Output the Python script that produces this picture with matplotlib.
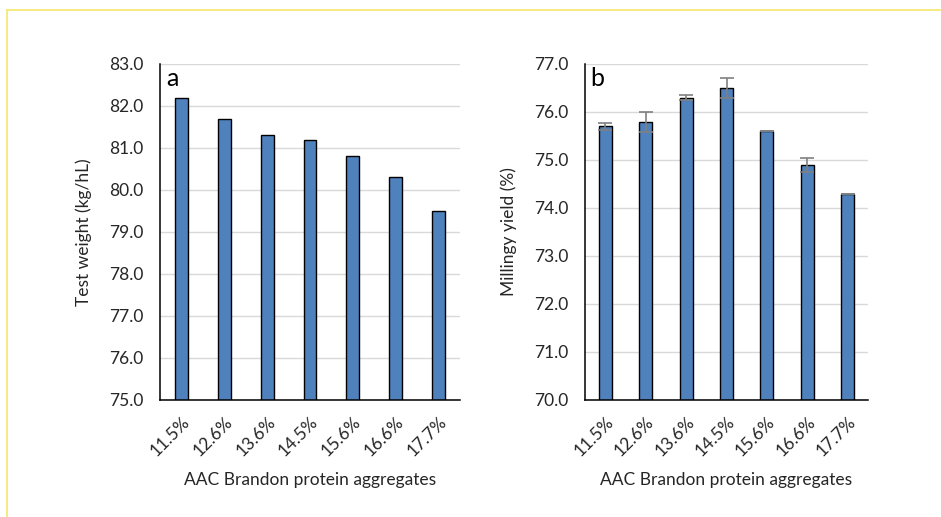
import matplotlib
matplotlib.use("Agg")
from matplotlib import pyplot as plt
from matplotlib.lines import Line2D

plt.rcParams['font.family'] = ['Lato', 'DejaVu Sans']

# protein aggregate levels on the x axis
categories = ['11.5%', '12.6%', '13.6%', '14.5%', '15.6%', '16.6%', '17.7%']

# panel a: test weight (kg/hL)
test_weight = [82.2, 81.7, 81.3, 81.2, 80.8, 80.3, 79.5]

# panel b: milling yield (%) with error bars
milling_yield = [75.7, 75.8, 76.3, 76.5, 75.6, 74.9, 74.3]
milling_err = [0.07, 0.21, 0.05, 0.21, 0.0, 0.14, 0.0]

bar_color = '#4f81bd'
grid_color = '#d9d9d9'
text_color = '#262626'

fig = plt.figure(figsize=(9.41, 5.17), dpi=100)

# light yellow frame around the figure
fig.add_artist(Line2D([7 / 941, 1.0], [1 - 10 / 517, 1 - 10 / 517], transform=fig.transFigure,
                      color='#f6e878', lw=1.3))
fig.add_artist(Line2D([7 / 941, 7 / 941], [0.0, 1 - 10 / 517], transform=fig.transFigure,
                      color='#f6e878', lw=1.3))

ax_a = fig.add_axes([160 / 941, 1 - 400 / 517, 300 / 941, 336 / 517])
ax_b = fig.add_axes([585 / 941, 1 - 400 / 517, 283 / 941, 336 / 517])


# shared styling for both panels
def style_axis(ax, ylim, ylabel, letter):
    ax.set_ylim(*ylim)
    ax.set_xlim(-0.5, len(categories) - 0.5)
    ax.set_yticks([ylim[0] + i for i in range(int(ylim[1] - ylim[0]) + 1)])
    ax.yaxis.set_major_formatter(matplotlib.ticker.FormatStrFormatter('%.1f'))
    ax.grid(axis='y', color=grid_color, lw=1)
    ax.set_axisbelow(True)
    for side in ['top', 'right']:
        ax.spines[side].set_visible(False)
    for side in ['left', 'bottom']:
        ax.spines[side].set_color('#000000')
        ax.spines[side].set_linewidth(1.1)
    ax.tick_params(axis='y', length=0, pad=12, labelsize=12.5, labelcolor=text_color)
    ax.tick_params(axis='x', length=0, pad=10, labelsize=12.5, labelcolor=text_color)
    ax.set_xticks(range(len(categories)))
    ax.set_xticklabels(categories, rotation=45, ha='right', rotation_mode='anchor')
    ax.set_ylabel(ylabel, fontsize=12.5, color=text_color, labelpad=12)
    ax.set_xlabel('AAC Brandon protein aggregates', fontsize=12.5, color=text_color, labelpad=9)
    ax.text(0.02, 0.99, letter, transform=ax.transAxes, fontsize=18, va='top', ha='left',
            color='#000000')


ax_a.bar(range(len(categories)), test_weight, width=0.3, color=bar_color, edgecolor='#000000',
         linewidth=1)
style_axis(ax_a, (75.0, 83.0), 'Test weight (kg/hL)', 'a')

ax_b.bar(range(len(categories)), milling_yield, width=0.32, color=bar_color, edgecolor='#000000',
         linewidth=1, yerr=milling_err, error_kw=dict(ecolor='#808080', elinewidth=1.2, capsize=5,
                                                      capthick=1.2))
style_axis(ax_b, (70.0, 77.0), 'Millingy yield (%)', 'b')

fig.savefig('out.png', dpi=100)
